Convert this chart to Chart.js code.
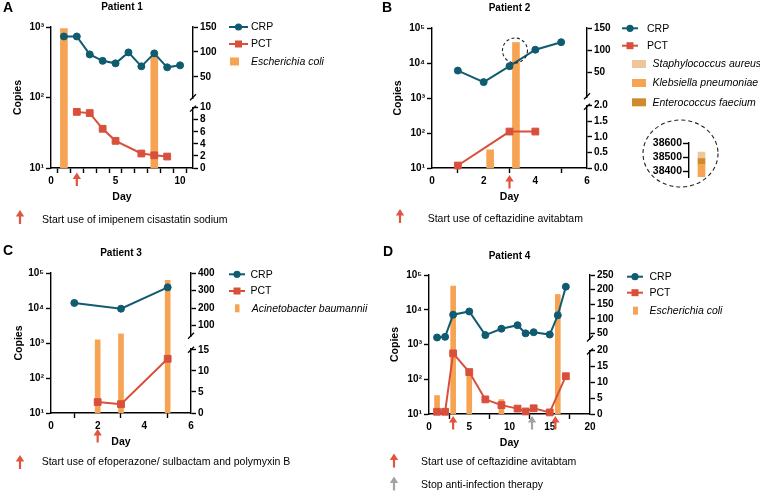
<!DOCTYPE html>
<html>
<head>
<meta charset="utf-8">
<script src="https://cdn.jsdelivr.net/npm/chart.js@4.4.1/dist/chart.umd.min.js"></script>
<style>
  html, body { margin: 0; padding: 0; background: #fff; }
  body { position: relative; width: 760px; height: 492px; overflow: hidden; }
  canvas { position: absolute; }
</style>
</head>
<body>
<canvas id="p1" width="380" height="244" style="left:0;top:0"></canvas>
<canvas id="p2" width="380" height="244" style="left:380px;top:0"></canvas>
<canvas id="p2zoom" width="86" height="78" style="left:640px;top:113px"></canvas>
<canvas id="p3" width="380" height="248" style="left:0;top:244px"></canvas>
<canvas id="p4" width="380" height="248" style="left:380px;top:244px"></canvas>
<script>
// Patient 1
const p1CrpDays = [1, 2, 3, 4, 5, 6, 7, 8, 9, 10];
const p1Crp = [131, 131, 95, 82, 77, 99, 71, 97, 69, 73];
const p1PctDays = [2, 3, 4, 5, 7, 8, 9];
const p1Pct = [9.3, 9.1, 6.5, 4.5, 2.4, 2.1, 1.9];
const p1BarDays = [1, 8];
const p1Ecoli = [950, 380];
const p1DayTicks = [0, 1, 2, 3, 4, 5, 6, 7, 8, 9, 10, 11];
const p1DayLabels = [0, 5, 10];
const p1CopyTicks = [10, 100, 1000];
const p1CrpTicks = [50, 100, 150];
const p1PctTicks = [0, 2, 4, 6, 8, 10];
const p1Start = [2];

// Patient 2
const p2CrpDays = [1, 2, 3, 4, 5];
const p2Crp = [54, 28, 64, 101, 118];
const p2PctDays = [1, 3, 4];
const p2Pct = [0.08, 1.17, 1.17];
const p2BarDays = [2.25, 3.25];
const p2Kpn = [33, 38530];
const p2DayTicks = [0, 2, 4, 6];
const p2CopyTicks = [10, 100, 1000, 10000, 100000];
const p2CrpTicks = [50, 100, 150];
const p2PctTicks = [0, 0.5, 1, 1.5, 2];
const p2Start = [3];
// day 3 bar, zoomed in (stacked)
const p2ZoomKpn = [38449];
const p2ZoomEfm = [41];
const p2ZoomSau = [46];
const p2ZoomTicks = [38400, 38500, 38600];

// Patient 3
const p3CrpDays = [1, 3, 5];
const p3Crp = [229, 196, 318];
const p3PctDays = [2, 3, 5];
const p3Pct = [2.6, 2.1, 12.9];
const p3BarDays = [2, 3, 5];
const p3Aba = [1230, 1820, 61600];
const p3DayTicks = [0, 2, 4, 6];
const p3CopyTicks = [10, 100, 1000, 10000, 100000];
const p3CrpTicks = [100, 200, 300, 400];
const p3PctTicks = [0, 5, 10, 15];
const p3Start = [2];

// Patient 4
const p4CrpDays = [1, 2, 3, 5, 7, 9, 11, 12, 13, 15, 16, 17];
const p4Crp = [36, 38, 114, 125, 44, 66, 78, 50, 54, 46, 112, 210];
const p4PctDays = [1, 2, 3, 5, 7, 9, 11, 12, 13, 15, 17];
const p4Pct = [0.7, 0.7, 19.1, 13.2, 4.6, 2.8, 1.7, 0.8, 1.8, 0.5, 11.9];
const p4BarDays = [1, 3, 5, 9, 16];
const p4Ecoli = [34, 48000, 150, 26, 27500];
const p4DayTicks = [0, 5, 10, 15, 20];
const p4CopyTicks = [10, 100, 1000, 10000, 100000];
const p4CrpTicks = [50, 100, 150, 200, 250];
const p4PctTicks = [0, 5, 10, 15, 20];
const p4Start = [3, 15.7];
const p4Stop = [12.8];

const INK = '#000';
const CRP_COL = '#0f5b70';
const PCT_COL = '#d8503b';
const BAR_COL = '#f6a453';
const SAU_COL = '#efc59c';
const EFM_COL = '#cf8a2c';
const RED_ARROW = '#e0553f';
const GREY_ARROW = '#a3a3a3';
const FONT = '"Liberation Sans", Arial, sans-serif';

Chart.defaults.font.family = FONT;
Chart.defaults.font.size = 10;
Chart.defaults.color = INK;

const SUP = ['\u2070', '\u00b9', '\u00b2', '\u00b3', '\u2074', '\u2075'];
const xy = (xs, ys) => xs.map((x, i) => ({ x, y: ys[i] }));
const setTicks = values => scale => { scale.ticks = values.map(value => ({ value })); };
const tickOpts = { color: INK, font: { size: 10, weight: 'bold' }, padding: 2, autoSkip: false, maxRotation: 0 };
const gridOpts = { drawOnChartArea: false, tickLength: 5, tickColor: INK, tickWidth: 1.4 };
const borderOpts = { color: INK, width: 1.4 };

function lineSet(label, days, vals, axis, color, style) {
    return {
        type: 'line', label, data: xy(days, vals), yAxisID: axis,
        borderColor: color, backgroundColor: color, borderWidth: 2,
        pointStyle: style, pointRadius: style === 'rect' ? 4.8 : 3.5,
        pointBorderWidth: 1, pointBorderColor: color, pointBackgroundColor: color,
        tension: 0, clip: false, order: 1
    };
}

function barSet(label, days, vals, width) {
    return {
        type: 'bar', label, data: xy(days, vals), yAxisID: 'yL',
        backgroundColor: BAR_COL, barThickness: width, grouped: false, order: 3
    };
}

function upArrow(ctx, x, tip, len, color) {
    ctx.save();
    ctx.fillStyle = color;
    ctx.strokeStyle = color;
    ctx.beginPath();
    ctx.moveTo(x, tip);
    ctx.lineTo(x - 4.2, tip + 6.5);
    ctx.lineTo(x + 4.2, tip + 6.5);
    ctx.closePath();
    ctx.fill();
    ctx.lineWidth = 2.2;
    ctx.beginPath();
    ctx.moveTo(x, tip + 5);
    ctx.lineTo(x, tip + len);
    ctx.stroke();
    ctx.restore();
}

function decor(p) {
    return {
        id: 'decor',
        afterDraw(chart) {
            const ctx = chart.ctx;
            const area = chart.chartArea;
            const xs = chart.scales.x;
            ctx.save();
            ctx.fillStyle = INK;
            ctx.textBaseline = 'alphabetic';
            ctx.textAlign = 'left';
            ctx.font = 'bold 14px ' + FONT;
            ctx.fillText(p.letter, p.letterPos[0], p.letterPos[1]);
            ctx.textAlign = 'center';
            ctx.font = 'bold 10px ' + FONT;
            ctx.fillText(p.title, (area.left + area.right) / 2, p.titleY);

            // axis break on the right
            const ax = chart.scales.yTop.left;
            ctx.strokeStyle = INK;
            ctx.lineWidth = 1.3;
            [chart.scales.yTop.bottom - 1, chart.scales.yBot.top + 1].forEach(y => {
                ctx.beginPath();
                ctx.moveTo(ax - 3, y + 3);
                ctx.lineTo(ax + 3, y - 3);
                ctx.stroke();
            });

            // treatment arrows under the day axis
            p.arrows.forEach(a => a.days.forEach(d => {
                upArrow(ctx, xs.getPixelForValue(d), area.bottom + p.arrowGap, 13.5, a.color);
            }));

            // legend
            const g = p.legendGeo;
            ctx.textAlign = 'left';
            ctx.textBaseline = 'middle';
            p.legend.forEach(item => {
                const ds = item.ds;
                const y = item.y;
                if (ds.type === 'line') {
                    ctx.strokeStyle = ds.borderColor;
                    ctx.lineWidth = 2;
                    ctx.beginPath();
                    ctx.moveTo(g.line[0], y);
                    ctx.lineTo(g.line[1], y);
                    ctx.stroke();
                    ctx.fillStyle = ds.borderColor;
                    const cx = (g.line[0] + g.line[1]) / 2;
                    if (ds.pointStyle === 'rect') {
                        ctx.fillRect(cx - 3.5, y - 3.5, 7, 7);
                    } else {
                        ctx.beginPath();
                        ctx.arc(cx, y, 3.6, 0, Math.PI * 2);
                        ctx.fill();
                    }
                    ctx.fillStyle = INK;
                    ctx.font = '10.5px ' + FONT;
                    ctx.fillText(ds.label, g.text, y + 0.5);
                } else {
                    ctx.fillStyle = ds.backgroundColor;
                    ctx.fillRect(g.box[0], y - 4, g.box[1] - g.box[0], 8);
                    ctx.fillStyle = INK;
                    ctx.font = 'italic 10.5px ' + FONT;
                    ctx.fillText(ds.label, g.boxText, y + 0.5);
                }
            });

            // footnotes
            p.notes.forEach(n => {
                upArrow(ctx, n.x, n.tip, 14, n.color);
                ctx.fillStyle = INK;
                ctx.font = '10.5px ' + FONT;
                ctx.fillText(n.text, n.tx, n.ty);
            });

            // dashed ring round the zoomed bar
            if (p.zoomBar) {
                const bar = chart.getDatasetMeta(p.zoomBar[0]).data[p.zoomBar[1]];
                ctx.strokeStyle = '#222';
                ctx.lineWidth = 1.1;
                ctx.setLineDash([3, 2.5]);
                ctx.beginPath();
                ctx.arc(bar.x - 1, bar.y + 8, 12.5, 0, Math.PI * 2);
                ctx.stroke();
            }
            ctx.restore();
        }
    };
}

function buildPanel(id, p) {
    const canvas = document.getElementById(id);
    const a = p.area;
    return new Chart(canvas, {
        type: 'bar',
        data: { datasets: p.datasets },
        options: {
            responsive: false,
            animation: false,
            devicePixelRatio: 1,
            events: [],
            layout: {
                padding: { left: 0, top: a.top, right: canvas.width - a.right - 40, bottom: canvas.height - a.bottom - 40 }
            },
            plugins: { legend: { display: false }, tooltip: { enabled: false }, title: { display: false } },
            scales: {
                x: {
                    type: 'linear', position: 'bottom', min: 0, max: p.xMax, offset: false,
                    afterBuildTicks: setTicks(p.dayTicks),
                    afterFit: s => { s.height = 40; },
                    ticks: { ...tickOpts, callback: v => (p.dayLabels || p.dayTicks).includes(v) ? String(v) : '' },
                    grid: gridOpts, border: borderOpts,
                    title: { display: true, text: 'Day', color: INK, font: { size: 10.5, weight: 'bold' }, padding: { top: 0, bottom: 5 } }
                },
                yL: {
                    type: 'logarithmic', position: 'left', min: 10, max: p.logMax,
                    afterBuildTicks: setTicks(p.copyTicks),
                    afterFit: s => { s.width = a.left; },
                    ticks: { ...tickOpts, callback: v => '10' + SUP[Math.round(Math.log10(v))] },
                    grid: gridOpts, border: borderOpts,
                    title: { display: true, text: 'Copies', color: INK, font: { size: 10.5, weight: 'bold' }, padding: { top: p.copiesPad, bottom: 0 } }
                },
                yTop: {
                    type: 'linear', position: 'right', stack: 'right', stackWeight: p.weights[0], weight: 1,
                    min: p.crpRange[0], max: p.crpRange[1],
                    afterBuildTicks: setTicks(p.crpTicks),
                    afterFit: s => { s.width = 40; },
                    ticks: tickOpts, grid: gridOpts, border: borderOpts
                },
                yGap: {
                    type: 'linear', position: 'right', stack: 'right', stackWeight: p.weights[1], weight: 2,
                    display: false, min: 0, max: 1,
                    afterFit: s => { s.width = 40; }
                },
                yBot: {
                    type: 'linear', position: 'right', stack: 'right', stackWeight: p.weights[2], weight: 3,
                    min: 0, max: p.pctMax,
                    afterBuildTicks: setTicks(p.pctTicks),
                    afterFit: s => { s.width = 40; },
                    ticks: { ...tickOpts, callback: p.pctFmt || (v => String(v)) },
                    grid: gridOpts, border: borderOpts
                }
            }
        },
        plugins: [decor(p)]
    });
}

// ---------- panel A ----------
const crp1 = lineSet('CRP', p1CrpDays, p1Crp, 'yTop', CRP_COL, 'circle');
const pct1 = lineSet('PCT', p1PctDays, p1Pct, 'yBot', PCT_COL, 'rect');
const bar1 = barSet('Escherichia coli', p1BarDays, p1Ecoli, 7);
buildPanel('p1', {
    datasets: [crp1, pct1, bar1],
    area: { left: 51, right: 193, top: 27, bottom: 168 },
    xMax: 11, dayTicks: p1DayTicks, dayLabels: p1DayLabels,
    logMax: 1000, copyTicks: p1CopyTicks, copiesPad: 11.5,
    crpRange: [6.8, 150], crpTicks: p1CrpTicks,
    pctMax: 10, pctTicks: p1PctTicks,
    weights: [71.6, 9.4, 60.6],
    letter: 'A', letterPos: [3, 12], title: 'Patient 1', titleY: 9.5,
    arrows: [{ days: p1Start, color: RED_ARROW }], arrowGap: 4.5,
    legendGeo: { line: [229, 248], text: 251, box: [230, 239], boxText: 251 },
    legend: [{ ds: crp1, y: 27 }, { ds: pct1, y: 44 }, { ds: bar1, y: 61.5 }],
    notes: [{ color: RED_ARROW, x: 20, tip: 210, text: 'Start use of imipenem cisastatin sodium', tx: 42, ty: 220 }]
});

// ---------- panel B ----------
const crp2 = lineSet('CRP', p2CrpDays, p2Crp, 'yTop', CRP_COL, 'circle');
const pct2 = lineSet('PCT', p2PctDays, p2Pct, 'yBot', PCT_COL, 'rect');
const bar2 = barSet('Klebsiella pneumoniae', p2BarDays, p2Kpn, 7);
const zoomKpn = { type: 'bar', label: 'Klebsiella pneumoniae', data: p2ZoomKpn, backgroundColor: BAR_COL };
const zoomEfm = { type: 'bar', label: 'Enterococcus faecium', data: p2ZoomEfm, backgroundColor: EFM_COL };
const zoomSau = { type: 'bar', label: 'Staphylococcus aureus', data: p2ZoomSau, backgroundColor: SAU_COL };
buildPanel('p2', {
    datasets: [crp2, pct2, bar2],
    area: { left: 52, right: 207, top: 28, bottom: 168 },
    xMax: 6, dayTicks: p2DayTicks,
    logMax: 100000, copyTicks: p2CopyTicks, copiesPad: 11.5,
    crpRange: [-6, 150], crpTicks: p2CrpTicks,
    pctMax: 2, pctTicks: p2PctTicks, pctFmt: v => v.toFixed(1),
    weights: [69.2, 8.5, 62.3],
    letter: 'B', letterPos: [2, 12], title: 'Patient 2', titleY: 10.5,
    arrows: [{ days: p2Start, color: RED_ARROW }], arrowGap: 7,
    legendGeo: { line: [242, 258], text: 267, box: [252, 266], boxText: 272.5 },
    legend: [{ ds: crp2, y: 28.3 }, { ds: pct2, y: 45.7 }, { ds: zoomSau, y: 64 }, { ds: zoomKpn, y: 83 }, { ds: zoomEfm, y: 102.3 }],
    notes: [{ color: RED_ARROW, x: 20, tip: 209, text: 'Start use of ceftazidine avitabtam', tx: 47.7, ty: 219 }],
    zoomBar: [2, 1]
});

new Chart(document.getElementById('p2zoom'), {
    type: 'bar',
    data: {
        labels: ['3'],
        datasets: [zoomKpn, zoomEfm, zoomSau].map(d => ({ ...d, barThickness: 7, clip: 0 }))
    },
    options: {
        responsive: false,
        animation: false,
        devicePixelRatio: 1,
        events: [],
        layout: { padding: { left: 0, top: 30, right: 12, bottom: 14 } },
        plugins: { legend: { display: false }, tooltip: { enabled: false } },
        scales: {
            x: { stacked: true, display: false },
            y: {
                stacked: true, min: 38360, max: 38600,
                afterBuildTicks: setTicks(p2ZoomTicks),
                afterFit: s => { s.width = 49; },
                ticks: { color: INK, font: { size: 10.5, weight: 'bold' }, padding: 1, callback: v => String(v) },
                grid: { drawOnChartArea: false, tickLength: 6, tickColor: INK, tickWidth: 1.4 },
                border: borderOpts
            }
        }
    },
    plugins: [{
        id: 'ring',
        afterDraw(chart) {
            const ctx = chart.ctx;
            ctx.save();
            ctx.strokeStyle = '#222';
            ctx.lineWidth = 1.1;
            ctx.setLineDash([4, 3]);
            ctx.beginPath();
            ctx.ellipse(40.5, 40.5, 37.5, 33.5, 0, 0, Math.PI * 2);
            ctx.stroke();
            ctx.restore();
        }
    }]
});

// ---------- panel C ----------
const crp3 = lineSet('CRP', p3CrpDays, p3Crp, 'yTop', CRP_COL, 'circle');
const pct3 = lineSet('PCT', p3PctDays, p3Pct, 'yBot', PCT_COL, 'rect');
const bar3 = barSet('Acinetobacter baumannii', p3BarDays, p3Aba, 5);
buildPanel('p3', {
    datasets: [crp3, pct3, bar3],
    area: { left: 51, right: 191, top: 29, bottom: 169 },
    xMax: 6, dayTicks: p3DayTicks,
    logMax: 100000, copyTicks: p3CopyTicks, copiesPad: 13,
    crpRange: [36, 400], crpTicks: p3CrpTicks,
    pctMax: 15.3, pctTicks: p3PctTicks,
    weights: [63.7, 12, 64.3],
    letter: 'C', letterPos: [3, 11], title: 'Patient 3', titleY: 12,
    arrows: [{ days: p3Start, color: RED_ARROW }], arrowGap: 16,
    legendGeo: { line: [229, 245], text: 250.5, box: [235, 239.5], boxText: 251.7 },
    legend: [{ ds: crp3, y: 30.3 }, { ds: pct3, y: 47 }, { ds: bar3, y: 64.3 }],
    notes: [{ color: RED_ARROW, x: 20, tip: 211, text: 'Start use of efoperazone/ sulbactam and polymyxin B', tx: 41.7, ty: 217.7 }]
});

// ---------- panel D ----------
const crp4 = lineSet('CRP', p4CrpDays, p4Crp, 'yTop', CRP_COL, 'circle');
const pct4 = lineSet('PCT', p4PctDays, p4Pct, 'yBot', PCT_COL, 'rect');
const bar4 = barSet('Escherichia coli', p4BarDays, p4Ecoli, 5);
buildPanel('p4', {
    datasets: [crp4, pct4, bar4],
    area: { left: 49, right: 210, top: 31, bottom: 170 },
    xMax: 20, dayTicks: p4DayTicks,
    logMax: 100000, copyTicks: p4CopyTicks, copiesPad: 8.5,
    crpRange: [29, 250], crpTicks: p4CrpTicks,
    pctMax: 20, pctTicks: p4PctTicks,
    weights: [64.5, 11, 63.5],
    letter: 'D', letterPos: [3, 12], title: 'Patient 4', titleY: 15,
    arrows: [{ days: p4Start, color: RED_ARROW }, { days: p4Stop, color: GREY_ARROW }], arrowGap: 2,
    legendGeo: { line: [247, 263], text: 269.5, box: [253, 258], boxText: 269.5 },
    legend: [{ ds: crp4, y: 32.7 }, { ds: pct4, y: 48.7 }, { ds: bar4, y: 66.7 }],
    notes: [
        { color: RED_ARROW, x: 14, tip: 209.5, text: 'Start use of ceftazidine avitabtam', tx: 41, ty: 217.7 },
        { color: GREY_ARROW, x: 14, tip: 232.5, text: 'Stop anti-infection therapy', tx: 41, ty: 241 }
    ]
});
</script>
</body>
</html>
